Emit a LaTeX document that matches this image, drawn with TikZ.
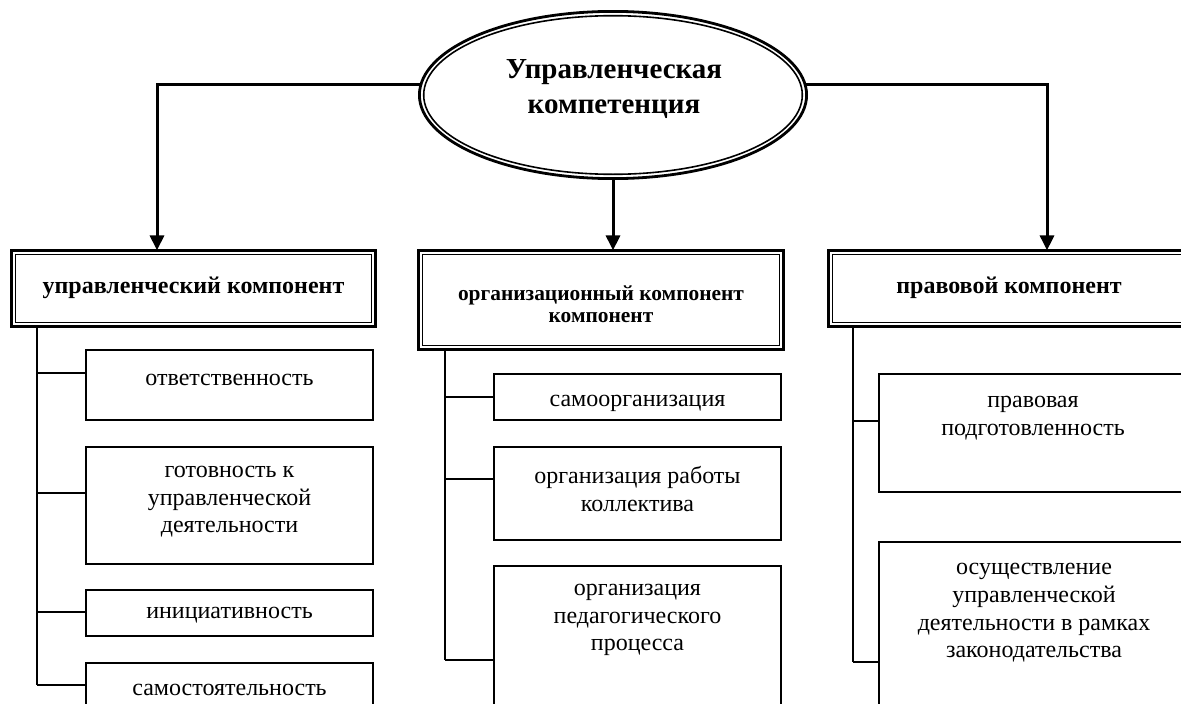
\documentclass[tikz,border=0pt]{standalone}
\usepackage{fontspec}
\setmainfont{Liberation Serif}
\usetikzlibrary{arrows.meta,shapes.geometric}
\begin{document}
\begin{tikzpicture}[x=1pt,y=-1pt,
  box/.style={draw,line width=1.6pt,anchor=north west,inner sep=0pt,outer sep=0pt},
  hbox/.style={draw,line width=2.8pt,anchor=north west,inner sep=0pt,outer sep=0pt},
  inner/.style={line width=1.6pt},
  txt/.style={align=center,inner sep=0pt,font=\fontsize{24}{27.6}\selectfont},
  htxt/.style={align=center,inner sep=0pt,font=\fontsize{24}{27}\selectfont\bfseries},
  hstxt/.style={align=center,inner sep=0pt,font=\fontsize{21.4}{22}\selectfont\bfseries},
  ttxt/.style={align=center,inner sep=0pt,font=\fontsize{29}{35}\selectfont\bfseries},
  ln/.style={line width=1.6pt},
  arr/.style={line width=3pt,-{Triangle[length=15pt,width=14pt]}}
]
\clip (0,0) rectangle (1181,704);
\fill[white] (0,0) rectangle (1181,704);

% central ellipse
\node[draw,ellipse,line width=2.8pt,minimum width=387.2pt,minimum height=167.2pt,inner sep=0pt,outer sep=0pt] (e) at (613,95) {};
\draw[inner] (e.center) ellipse [x radius=189.3pt, y radius=79.3pt];
\node[ttxt] (et) at (614,89) {Управленческая\\компетенция};

% header boxes
\node[hbox,minimum width=364.2pt,minimum height=76.2pt] (h1) at (11.4,250.4) {};
\node[hbox,minimum width=365.2pt,minimum height=99.2pt] (h2) at (418.4,250.4) {};
\node[hbox,minimum width=361pt,minimum height=76.2pt] (h3) at (828.4,250.4) {};
\foreach \h in {h1,h2,h3}{
  \draw[inner] ([shift={(4.2pt,-4.2pt)}]\h.north west) rectangle ([shift={(-4.2pt,4.2pt)}]\h.south east);
}
\node[htxt] (h1t) at (193.5,288) {управленческий компонент};
\node[hstxt] (h2t) at (601,304) {организационный компонент\\компонент};
\node[htxt] (h3t) at (1009,288) {правовой компонент};

% arrows
\coordinate (al) at (157,0);
\coordinate (ar) at (1047,0);
\draw[arr] (e.177) -| (al |- h1.north);
\draw[arr] (e.3) -| (ar |- h3.north);
\draw[arr] (e.south) -- (e.south |- h2.north);

% left column
\node[box,minimum width=287.4pt,minimum height=70.4pt] (l1) at (85.8,349.8) {};
\node[box,minimum width=287.4pt,minimum height=117.4pt] (l2) at (85.8,446.8) {};
\node[box,minimum width=287.4pt,minimum height=46.4pt] (l3) at (85.8,589.8) {};
\node[box,minimum width=287.4pt,minimum height=100pt] (l4) at (85.8,662.8) {};
\node[txt] (l1t) at (229.5,380) {ответственность};
\node[txt] (l2t) at (229.5,502) {готовность к\\управленческой\\деятельности};
\node[txt] (l3t) at (229.5,615) {инициативность};
\node[txt] (l4t) at (229.5,690) {самостоятельность};

% middle column
\node[box,minimum width=287.4pt,minimum height=46.4pt] (m1) at (493.8,373.8) {};
\node[box,minimum width=287.4pt,minimum height=93.4pt] (m2) at (493.8,446.8) {};
\node[box,minimum width=287.4pt,minimum height=200pt] (m3) at (493.8,565.8) {};
\node[txt] (m1t) at (637.5,403) {самоорганизация};
\node[txt] (m2t) at (637.5,489) {организация работы\\коллектива};
\node[txt] (m3t) at (637.5,620) {организация\\педагогического\\процесса};

% right column
\node[box,minimum width=310pt,minimum height=118.4pt] (r1) at (878.8,373.8) {};
\node[box,minimum width=310pt,minimum height=200pt] (r2) at (878.8,541.8) {};
\node[txt] (r1t) at (1033,418) {правовая\\подготовленность};
\node[txt] (r2t) at (1034,613) {осуществление\\управленческой\\деятельности в рамках\\законодательства};

% trunks and branches
\coordinate (tl) at (37,0);
\coordinate (tm) at (445,0);
\coordinate (tr) at (853,0);
\coordinate (bl1) at ([yshift=-23.2pt]l1.north west);
\coordinate (bl2) at ([yshift=-46.2pt]l2.north west);
\coordinate (bl3) at ([yshift=-22.2pt]l3.north west);
\coordinate (bl4) at ([yshift=-22.2pt]l4.north west);
\coordinate (bm1) at ([yshift=-23.2pt]m1.north west);
\coordinate (bm2) at ([yshift=-32.2pt]m2.north west);
\coordinate (bm3) at ([yshift=-94.2pt]m3.north west);
\coordinate (br1) at ([yshift=-47.2pt]r1.north west);
\coordinate (br2) at ([yshift=-120.2pt]r2.north west);

\draw[ln] (tl |- h1.south) -- (tl |- bl4);
\foreach \b in {bl1,bl2,bl3,bl4} \draw[ln] (tl |- \b) -- (\b);
\draw[ln] (tm |- h2.south) -- (tm |- bm3);
\foreach \b in {bm1,bm2,bm3} \draw[ln] (tm |- \b) -- (\b);
\draw[ln] (tr |- h3.south) -- (tr |- br2);
\foreach \b in {br1,br2} \draw[ln] (tr |- \b) -- (\b);
\end{tikzpicture}
\end{document}
